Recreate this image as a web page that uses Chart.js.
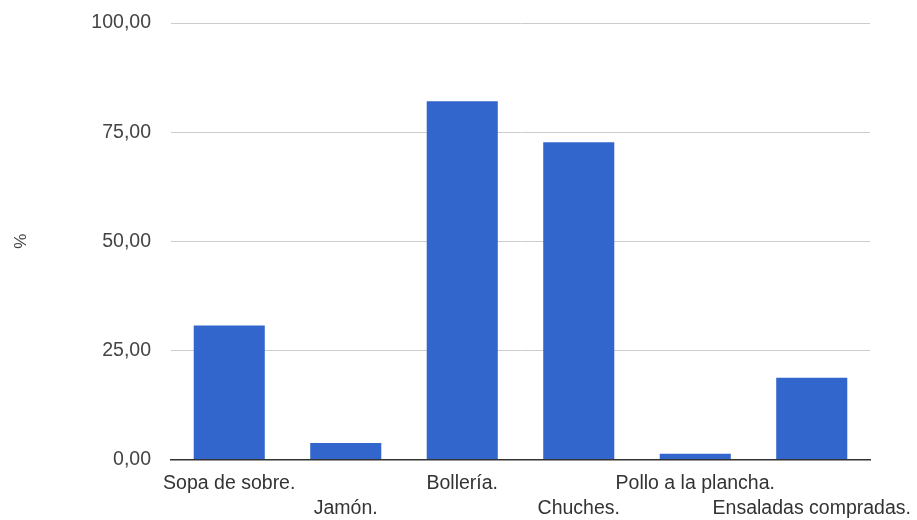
<!DOCTYPE html>
<html>
<head>
<meta charset="utf-8">
<script src="https://cdn.jsdelivr.net/npm/chart.js@4"></script>
<style>
  html, body { margin: 0; padding: 0; background: #fff; }
  #wrap { width: 917px; height: 520px; }
</style>
</head>
<body>
<div id="wrap"><canvas id="barChartAlimentos"></canvas></div>
<script>
const categorias = ['Sopa de sobre.', 'Jamón.', 'Bollería.', 'Chuches.', 'Pollo a la plancha.', 'Ensaladas compradas.'];
const porcentajes = [30.7, 3.8, 82.1, 72.7, 1.3, 18.7];
const ticksY = [0, 25, 50, 75, 100];

// etiquetas alternadas en dos filas
const etiquetas = categorias.map((c, i) => (i % 2 === 0 ? [c, ''] : ['', c]));

const fuente = { family: '"Liberation Sans", Arial, sans-serif', size: 19.5 };

Chart.defaults.font.family = fuente.family;

const ctx = document.getElementById('barChartAlimentos');
new Chart(ctx, {
  type: 'bar',
  data: {
    labels: etiquetas,
    datasets: [{
      label: '%',
      data: porcentajes,
      backgroundColor: '#3366cc',
      borderWidth: 0,
      categoryPercentage: 0.61,
      barPercentage: 1
    }]
  },
  options: {
    responsive: true,
    maintainAspectRatio: false,
    animation: false,
    layout: { padding: { top: 23, right: 47, left: 0, bottom: 0 } },
    plugins: {
      legend: { display: false },
      tooltip: { enabled: false }
    },
    scales: {
      x: {
        grid: { display: false, drawTicks: false },
        border: { display: true, color: '#333', width: 1.5 },
        ticks: {
          autoSkip: false,
          maxRotation: 0,
          minRotation: 0,
          padding: 12,
          color: '#333',
          font: { ...fuente, lineHeight: 1.28 }
        },
        afterFit: s => {
          s.height = 60.5;
          s.paddingLeft = 0;
          s.paddingRight = 0;
        }
      },
      y: {
        min: 0,
        max: 100,
        afterBuildTicks: s => { s.ticks = ticksY.map(v => ({ value: v })); },
        grid: { color: '#cccccc', lineWidth: 1, drawTicks: false },
        border: { display: false },
        ticks: {
          padding: 20,
          color: '#444',
          font: fuente,
          callback: v => v.toFixed(2).replace('.', ',')
        },
        title: {
          display: true,
          text: '%',
          color: '#444',
          font: { ...fuente, size: 17 },
          padding: { top: 11, bottom: 0 }
        },
        afterFit: s => {
          s.width = 171;
          s.paddingTop = 0;
          s.paddingBottom = 0;
        }
      }
    }
  }
});
</script>
</body>
</html>
